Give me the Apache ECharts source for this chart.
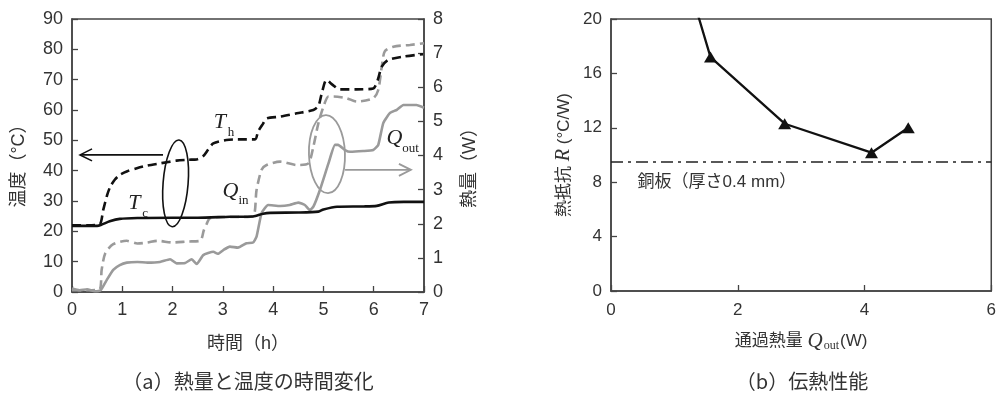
<!DOCTYPE html>
<html><head><meta charset="utf-8">
<script src="https://cdn.jsdelivr.net/npm/echarts@6/dist/echarts.min.js"></script>
<style>html,body{margin:0;padding:0;background:#fff}#c{width:999px;height:396px}</style>
</head><body><div id="c"></div>
<script>
// ---- Chart (a): time series ----
const thTime = [0,0.3,0.55,0.62,0.7,0.76,0.85,0.95,1.1,1.29,1.5,1.75,2.08,2.3,2.48,2.61,2.71,2.81,3.07,3.3,3.64,3.7,3.8,3.87,4.14,4.47,4.8,4.9,4.96,5.06,5.19,5.33,5.66,5.99,6.08,6.16,6.29,6.59,6.98];
const thValues = [22,22,22.3,27,32,34.7,37,38.6,39.8,40.8,41.7,42.4,43.3,43.6,43.7,44.8,47,49,50.1,50.3,50.3,52.9,55.5,57.2,57.8,58.9,60,61.3,65,69.9,68.2,66.8,66.8,67.1,69.9,74.3,76.5,77.6,78.4];
const tcTime = [0,0.5,0.6,0.75,0.95,1.3,2,2.5,3.14,3.6,3.8,3.94,4.5,4.9,5.0,5.27,5.8,6.06,6.3,6.6,7];
const tcValues = [21.8,21.8,22.3,23.3,24.1,24.4,24.5,24.5,24.8,24.9,25.8,26.1,26.2,26.5,27.2,28.1,28.2,28.4,29.5,29.7,29.7];
const qinTime = [0,0.3,0.55,0.59,0.66,0.82,1.09,1.3,1.5,1.7,2.0,2.3,2.55,2.62,2.68,2.74,3.0,3.3,3.6,3.67,3.77,3.87,4.14,4.47,4.7,4.8,4.9,5.0,5.1,5.2,5.46,5.66,5.99,6.09,6.16,6.22,6.39,6.72,7.0];
const qinValues = [0.05,0.05,0.08,0.65,1.13,1.4,1.5,1.42,1.45,1.5,1.45,1.48,1.5,1.8,2.0,2.16,2.2,2.2,2.22,2.99,3.58,3.72,3.82,3.72,3.77,4.26,4.95,5.43,5.73,5.73,5.68,5.58,5.68,5.92,6.6,7.05,7.19,7.24,7.29];
const qoutTime = [0,0.15,0.3,0.45,0.57,0.69,0.82,0.95,1.09,1.3,1.5,1.75,1.95,2.08,2.25,2.38,2.48,2.61,2.81,2.9,3.01,3.14,3.3,3.47,3.6,3.67,3.77,3.9,4.14,4.33,4.5,4.63,4.73,4.8,4.93,5.1,5.23,5.29,5.43,5.53,5.79,5.99,6.09,6.19,6.32,6.46,6.59,6.85,7.0];
const qoutValues = [0.1,0.05,0.08,0.02,0.05,0.35,0.65,0.79,0.86,0.88,0.86,0.88,0.96,0.84,0.85,0.96,0.82,1.08,1.18,1.12,1.23,1.33,1.3,1.43,1.45,1.62,2.31,2.55,2.52,2.55,2.62,2.55,2.4,2.5,2.99,3.77,4.31,4.31,4.16,4.11,4.13,4.16,4.31,4.95,5.24,5.34,5.48,5.48,5.4];
const timeTicks = [0,1,2,3,4,5,6,7];
const tempTicks = [0,10,20,30,40,50,60,70,80,90];
const heatTicks = [0,1,2,3,4,5,6,7,8];

// ---- Chart (b): heat transfer performance ----
const perfQout = [1.2,1.57,2.74,4.11,4.69];
const perfR = [23.0,17.2,12.3,10.17,12.0];
const copperR = 9.5;
const qoutTicks = [0,2,4,6];
const rTicks = [0,4,8,12,16,20];

const zip = (a, b) => a.map((v, i) => [v, b[i]]);
const SANS = "'Liberation Sans','Noto Sans CJK JP',sans-serif";
const SERIF = "'Liberation Serif','DejaVu Serif',serif";
const TXT = '#333';
const AX = '#444';

const chart = echarts.init(document.getElementById('c'), null, {renderer: 'canvas'});

function valAxis(extra) {
  return Object.assign({
    type: 'value',
    axisLine: {show: true, lineStyle: {color: AX, width: 1.5}},
    axisTick: {show: true, inside: true, length: 6, lineStyle: {color: AX, width: 1.3}},
    splitLine: {show: false},
    axisLabel: {color: TXT, fontSize: 18, fontFamily: SANS, margin: 9},
    nameTextStyle: {color: TXT, fontSize: 18, fontFamily: SANS}
  }, extra);
}

const option = {
  animation: false,
  backgroundColor: '#fff',
  grid: [
    {left: 72, top: 19, width: 352, height: 273, show: true, borderColor: AX, borderWidth: 1.5, containLabel: false},
    {left: 611, top: 19, width: 382, height: 272, show: true, borderColor: AX, borderWidth: 1.5, containLabel: false}
  ],
  xAxis: [
    valAxis({gridIndex: 0, min: timeTicks[0], max: timeTicks[timeTicks.length-1], interval: 1,
      axisLabel: {color: TXT, fontSize: 18, fontFamily: SANS, margin: 9},
      name: '時間（h）', nameLocation: 'middle', nameGap: 43}),
    valAxis({gridIndex: 1, min: qoutTicks[0], max: qoutTicks[qoutTicks.length-1], interval: 2,
      axisLabel: {color: TXT, fontSize: 17, fontFamily: SANS, margin: 11},
      name: '{t|通過熱量 }{q|Q}{s|out}{t|(W)}', nameLocation: 'middle', nameGap: 39,
      nameTextStyle: {rich: {
        t: {fontSize: 17, fontFamily: SANS, color: TXT, lineHeight: 22},
        q: {fontSize: 21, fontFamily: SERIF, fontStyle: 'italic', color: TXT, lineHeight: 22},
        s: {fontSize: 12, fontFamily: SERIF, color: TXT, lineHeight: 12, padding: [8,1,0,1], verticalAlign: 'bottom'}
      }}})
  ],
  yAxis: [
    valAxis({gridIndex: 0, position: 'left', min: tempTicks[0], max: tempTicks[tempTicks.length-1], interval: 10,
      name: '温度（°C）', nameLocation: 'middle', nameRotate: 90, nameGap: 44,
      nameTextStyle: {color: TXT, fontSize: 18, fontFamily: SANS, padding: [0, 12, 0, 0]}}),
    valAxis({gridIndex: 0, position: 'right', min: heatTicks[0], max: heatTicks[heatTicks.length-1], interval: 1,
      name: '熱量（W）', nameLocation: 'middle', nameRotate: 90, nameGap: 37,
      nameTextStyle: {color: TXT, fontSize: 18, fontFamily: SANS, padding: [0, 16, 0, 0]}}),
    valAxis({gridIndex: 1, position: 'left', min: rTicks[0], max: rTicks[rTicks.length-1], interval: 4,
      axisLabel: {color: TXT, fontSize: 17, fontFamily: SANS, margin: 9},
      name: '{t|熱抵抗 }{r|R}{t| (°C/W)}', nameLocation: 'middle', nameRotate: 90, nameGap: 37,
      nameTextStyle: {rich: {
        t: {fontSize: 17, fontFamily: SANS, color: TXT},
        r: {fontSize: 20, fontFamily: SERIF, fontStyle: 'italic', color: TXT}
      }}})
  ],
  series: [
    {name: 'Qin', type: 'line', xAxisIndex: 0, yAxisIndex: 1, data: zip(qinTime, qinValues), showSymbol: false, smooth: 0.25,
      lineStyle: {color: '#9a9a9a', width: 2.6, type: [9, 5]}, z: 2},
    {name: 'Qout', type: 'line', xAxisIndex: 0, yAxisIndex: 1, data: zip(qoutTime, qoutValues), showSymbol: false, smooth: 0.15,
      lineStyle: {color: '#9a9a9a', width: 2.6}, z: 2},
    {name: 'Th', type: 'line', xAxisIndex: 0, yAxisIndex: 0, data: zip(thTime, thValues), showSymbol: false, smooth: 0.25,
      lineStyle: {color: '#111', width: 2.6, type: [9, 5]}, z: 3},
    {name: 'Tc', type: 'line', xAxisIndex: 0, yAxisIndex: 0, data: zip(tcTime, tcValues), showSymbol: false, smooth: 0.25,
      lineStyle: {color: '#111', width: 2.6}, z: 3},
    {name: 'R', type: 'line', xAxisIndex: 1, yAxisIndex: 2, data: zip(perfQout, perfR), clip: true,
      symbol: 'triangle', symbolSize: [13, 11], showSymbol: true,
      itemStyle: {color: '#111'}, lineStyle: {color: '#111', width: 2.3},
      markLine: {silent: true, symbol: 'none', label: {show: false},
        lineStyle: {color: '#222', width: 1.5, type: [12, 5, 3, 5]},
        data: [{yAxis: copperR}]}}
  ]
};
chart.setOption(option);

// annotations (positioned through the axes)
const pT = (x, y) => chart.convertToPixel({seriesIndex: 2}, [x, y]);
const pW = (x, y) => chart.convertToPixel({seriesIndex: 0}, [x, y]);
const pR = (x, y) => chart.convertToPixel({seriesIndex: 4}, [x, y]);

function label(main, sub, pos, col) {
  return [
    {type: 'text', x: pos[0], y: pos[1], z: 100, style: {text: main, fill: col, fontSize: 22, fontFamily: SERIF, fontStyle: 'italic', align: 'center', verticalAlign: 'middle'}},
    {type: 'text', x: pos[0] + 8, y: pos[1] + 10, z: 100, style: {text: sub, fill: col, fontSize: 13, fontFamily: SERIF, align: 'left', verticalAlign: 'middle'}}
  ];
}

const e1 = pT(2.06, 35.8);
const a1s = pT(1.81, 45.2), a1e = pT(0.16, 45.2);
const e2 = pW(5.07, 4.04);
const a2s = pW(5.43, 3.58), a2e = pW(6.74, 3.58);
const g = [];
g.push({type: 'ellipse', x: e1[0], y: e1[1], rotation: -0.08, shape: {cx: 0, cy: 0, rx: 12.5, ry: 43.5}, style: {fill: 'none', stroke: '#111', lineWidth: 1.6}, z: 100});
g.push({type: 'line', shape: {x1: a1s[0], y1: a1s[1], x2: a1e[0], y2: a1e[1]}, style: {stroke: '#111', lineWidth: 1.6}, z: 100});
g.push({type: 'polyline', shape: {points: [[a1e[0] + 12, a1e[1] - 6], [a1e[0], a1e[1]], [a1e[0] + 12, a1e[1] + 6]]}, style: {stroke: '#111', fill: null, lineWidth: 1.6}, z: 100});
g.push({type: 'ellipse', x: e2[0], y: e2[1], rotation: 0.03, shape: {cx: 0, cy: 0, rx: 18, ry: 39}, style: {fill: 'none', stroke: '#9a9a9a', lineWidth: 1.8}, z: 100});
g.push({type: 'line', shape: {x1: a2s[0], y1: a2s[1], x2: a2e[0], y2: a2e[1]}, style: {stroke: '#9a9a9a', lineWidth: 1.8}, z: 100});
g.push({type: 'polyline', shape: {points: [[a2e[0] - 12, a2e[1] - 6], [a2e[0], a2e[1]], [a2e[0] - 12, a2e[1] + 6]]}, style: {stroke: '#9a9a9a', fill: null, lineWidth: 1.8}, z: 100});
g.push(...label('T', 'h', pT(2.94, 56), '#222'));
g.push(...label('T', 'c', pT(1.24, 29.2), '#222'));
g.push(...label('Q', 'in', pW(3.15, 2.96), '#222'));
g.push(...label('Q', 'out', pW(6.41, 4.5), '#222'));
const cp = pR(0.42, 8.0);
g.push({type: 'text', x: cp[0], y: cp[1], z: 100, style: {text: '銅板（厚さ0.4 mm）', fill: TXT, fontSize: 17, fontFamily: SANS, align: 'left', verticalAlign: 'middle'}});
g.push({type: 'text', x: 248, y: 381, z: 100, style: {text: '（a）熱量と温度の時間変化', fill: TXT, fontSize: 20, fontFamily: "'Noto Sans CJK JP',sans-serif", align: 'center', verticalAlign: 'middle'}});
g.push({type: 'text', x: 802, y: 381, z: 100, style: {text: '（b）伝熱性能', fill: TXT, fontSize: 20, fontFamily: "'Noto Sans CJK JP',sans-serif", align: 'center', verticalAlign: 'middle'}});
chart.setOption({graphic: g});
</script></body></html>
